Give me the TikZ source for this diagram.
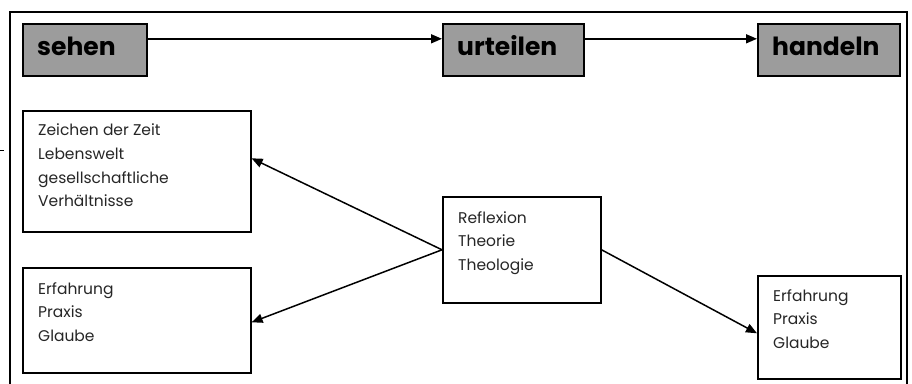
\documentclass[tikz,border=0pt]{standalone}
\usepackage{fontspec}
\setmainfont{Poppins}
\usetikzlibrary{arrows.meta}
\begin{document}
\begin{tikzpicture}[x=1pt,y=-1pt,
  hdr/.style={draw=black,line width=1.6pt,fill=gray!78,minimum width=#1,minimum height=52pt,inner sep=0pt,anchor=north west},
  wbox/.style={draw=black,line width=1.6pt,fill=white,inner sep=0pt,anchor=north west},
  hdrtxt/.style={anchor=base west,inner sep=0pt,font=\fontsize{25}{28}\selectfont\bfseries},
  bodytxt/.style={anchor=north west,inner sep=0pt,align=left,font=\fontsize{15.5}{23.5}\selectfont,text=black!85},
  arr/.style={line width=1.5pt,-{Triangle[length=11pt,width=9pt]}}]
\useasboundingbox (0,0) rectangle (912,383);
\fill[white] (0,0) rectangle (912,383);
% outer frame
\draw[line width=1.5pt] (10,395) -- (10,12) -- (907,12) -- (907,395);
\draw[line width=1pt] (0,150) -- (4,150);
% header boxes
\node[hdr=124pt] (sehen) at (22,23) {};
\node[hdr=141pt] (urteilen) at (442,23) {};
\node[hdr=142pt] (handeln) at (757,23) {};
\node[hdrtxt] (tsehen) at (37,55) {sehen};
\node[hdrtxt] (turteilen) at (457,55) {urteilen};
\node[hdrtxt] (thandeln) at (772,55) {handeln};
\draw[arr] ([yshift=11pt]sehen.east) -- ([yshift=11pt]urteilen.west);
\draw[arr] ([yshift=11pt]urteilen.east) -- ([yshift=11pt]handeln.west);
% white boxes
\node[wbox,minimum width=228pt,minimum height=121pt] (zeit) at (22,110) {};
\node[wbox,minimum width=228pt,minimum height=105pt] (erfl) at (22,267) {};
\node[wbox,minimum width=158pt,minimum height=106pt] (refl) at (442,196) {};
\node[wbox,minimum width=143pt,minimum height=103pt] (erfr) at (757,275) {};
\node[bodytxt] (tzeit) at (38,124) {Zeichen der Zeit\\Lebenswelt\\gesellschaftliche\\Verhältnisse};
\node[bodytxt] (terfl) at (38,282) {Erfahrung\\Praxis\\Glaube};
\node[bodytxt] (trefl) at (458,211) {Reflexion\\Theorie\\Theologie};
\node[bodytxt] (terfr) at (773,289) {Erfahrung\\Praxis\\Glaube};
% diagonal arrows
\draw[arr] (refl.west) -- ([yshift=13pt]zeit.east);
\draw[arr] (refl.west) -- ([yshift=-2pt]erfl.east);
\draw[arr] (refl.east) -- ([yshift=-6pt]erfr.west);
\end{tikzpicture}
\end{document}
